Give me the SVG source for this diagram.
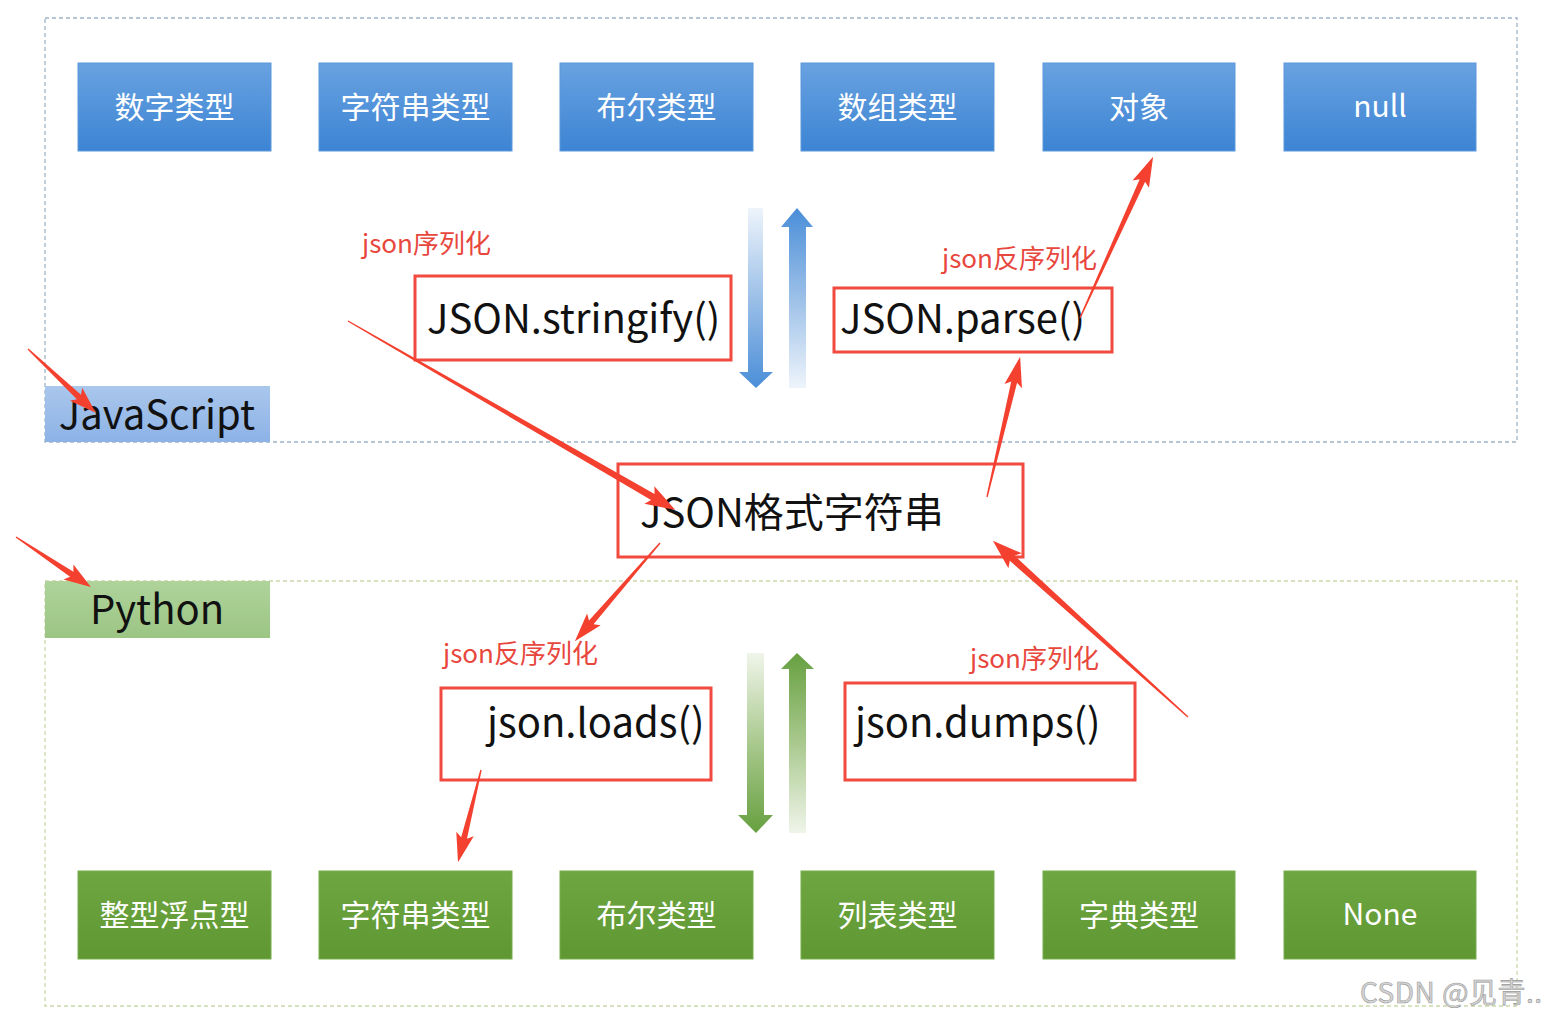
<svg xmlns="http://www.w3.org/2000/svg" width="1554" height="1021" viewBox="0 0 1554 1021">
<defs>
<linearGradient id="gBlue" x1="0" y1="0" x2="0" y2="1"><stop offset="0" stop-color="#68a2e0"/><stop offset="1" stop-color="#3c84d4"/></linearGradient>
<linearGradient id="gGreen" x1="0" y1="0" x2="0" y2="1"><stop offset="0" stop-color="#6ea642"/><stop offset="1" stop-color="#5f9733"/></linearGradient>
<linearGradient id="gJs" x1="0" y1="0" x2="0" y2="1"><stop offset="0" stop-color="#aac7ec"/><stop offset="1" stop-color="#8cb2e6"/></linearGradient>
<linearGradient id="gPy" x1="0" y1="0" x2="0" y2="1"><stop offset="0" stop-color="#afd39b"/><stop offset="1" stop-color="#9cc584"/></linearGradient>
<linearGradient id="bDown" x1="0" y1="0" x2="0" y2="1"><stop offset="0" stop-color="#eef4fb"/><stop offset="0.5" stop-color="#9cc0e8"/><stop offset="1" stop-color="#4a8ed8"/></linearGradient>
<linearGradient id="bUp" x1="0" y1="1" x2="0" y2="0"><stop offset="0" stop-color="#eef4fb"/><stop offset="0.5" stop-color="#9cc0e8"/><stop offset="1" stop-color="#4a8ed8"/></linearGradient>
<linearGradient id="gDown" x1="0" y1="0" x2="0" y2="1"><stop offset="0" stop-color="#f0f5ea"/><stop offset="0.5" stop-color="#a9c98e"/><stop offset="1" stop-color="#67a040"/></linearGradient>
<linearGradient id="gUp" x1="0" y1="1" x2="0" y2="0"><stop offset="0" stop-color="#f0f5ea"/><stop offset="0.5" stop-color="#a9c98e"/><stop offset="1" stop-color="#67a040"/></linearGradient>
</defs>
<style>
.t{font-family:"Noto Sans CJK SC","Noto Sans",sans-serif;}
.btxt{font-size:30px;fill:#ffffff;text-anchor:middle;}
.big{font-size:40px;fill:#111111;}
.lbl{font-size:26px;fill:#e8473d;}
.rbox{fill:#ffffff;stroke:#f24a3f;stroke-width:3;}
.bbox{fill:url(#gBlue);stroke:#5b98dc;stroke-width:1;}
.gbox{fill:url(#gGreen);stroke:#76ad4c;stroke-width:1;}
.arr{fill:#f4402f;}
</style>
<rect width="1554" height="1021" fill="#ffffff"/>
<g id="frames">
<rect x="45" y="18" width="1472" height="424" fill="none" stroke="#9fb4c6" stroke-width="1.3" stroke-dasharray="4 3"/>
<rect x="45" y="581" width="1472" height="425" fill="none" stroke="#c8d9a8" stroke-width="1.3" stroke-dasharray="4 3"/>
</g>
<g id="js-types">
<g id="js-number"><rect class="bbox" x="78" y="63" width="193" height="88"/><text class="t btxt" x="174.5" y="118">数字类型</text></g>
<g id="js-string"><rect class="bbox" x="319" y="63" width="193" height="88"/><text class="t btxt" x="415.5" y="118">字符串类型</text></g>
<g id="js-bool"><rect class="bbox" x="560" y="63" width="193" height="88"/><text class="t btxt" x="656.5" y="118">布尔类型</text></g>
<g id="js-array"><rect class="bbox" x="801" y="63" width="193" height="88"/><text class="t btxt" x="897.5" y="118">数组类型</text></g>
<g id="js-object"><rect class="bbox" x="1043" y="63" width="192" height="88"/><text class="t btxt" x="1139" y="118">对象</text></g>
<g id="js-null"><rect class="bbox" x="1284" y="63" width="192" height="88"/><text class="t btxt" x="1380" y="117">null</text></g>
</g>
<g id="py-types">
<g id="py-num"><rect class="gbox" x="78" y="871" width="193" height="88"/><text class="t btxt" x="174.5" y="926">整型浮点型</text></g>
<g id="py-str"><rect class="gbox" x="319" y="871" width="193" height="88"/><text class="t btxt" x="415.5" y="926">字符串类型</text></g>
<g id="py-bool"><rect class="gbox" x="560" y="871" width="193" height="88"/><text class="t btxt" x="656.5" y="926">布尔类型</text></g>
<g id="py-list"><rect class="gbox" x="801" y="871" width="193" height="88"/><text class="t btxt" x="897.5" y="926">列表类型</text></g>
<g id="py-dict"><rect class="gbox" x="1043" y="871" width="192" height="88"/><text class="t btxt" x="1139" y="926">字典类型</text></g>
<g id="py-none"><rect class="gbox" x="1284" y="871" width="192" height="88"/><text class="t btxt" x="1380" y="925">None</text></g>
</g>
<g id="js-label"><rect x="45" y="386" width="225" height="56" fill="url(#gJs)"/><text class="t big" x="157" y="429" text-anchor="middle" font-size="38">JavaScript</text></g>
<g id="py-label"><rect x="45" y="581" width="225" height="57" fill="url(#gPy)"/><text class="t big" x="157" y="624" text-anchor="middle" font-size="39">Python</text></g>
<g id="stringify"><rect class="rbox" x="415" y="276" width="316" height="84"/><text class="t big" x="427" y="333">JSON.stringify()</text></g>
<g id="parse"><rect class="rbox" x="834" y="288" width="278" height="64"/><text class="t big" x="840" y="333">JSON.parse()</text></g>
<g id="json-string"><rect class="rbox" x="618" y="464" width="405" height="93"/><text class="t big" x="640" y="527">JSON格式字符串</text></g>
<g id="loads"><rect class="rbox" x="441" y="688" width="270" height="92"/><text class="t big" x="487" y="737">json.loads()</text></g>
<g id="dumps"><rect class="rbox" x="845" y="683" width="290" height="97"/><text class="t big" x="855" y="737">json.dumps()</text></g>
<g id="labels">
<text class="t lbl" x="362" y="253">json序列化</text>
<text class="t lbl" x="942" y="268">json反序列化</text>
<text class="t lbl" x="443" y="663">json反序列化</text>
<text class="t lbl" x="970" y="668">json序列化</text>
</g>
<g id="connectors">
<path d="M748,208 L763,208 L763,372 L773,372 L756,388 L739,372 L748,372 Z" fill="url(#bDown)"/>
<path d="M797,208 L813,227 L806,227 L806,388 L789,388 L789,227 L781,227 Z" fill="url(#bUp)"/>
<path d="M747,653 L764,653 L764,815 L773,815 L756,833 L738,815 L747,815 Z" fill="url(#gDown)"/>
<path d="M797,653 L814,669 L806,669 L806,833 L789,833 L789,669 L781,669 Z" fill="url(#gUp)"/>
<path class="arr" transform="translate(348,321) rotate(30.0)" d="M0,-0.7 L352,-3.5 L348,-10 L378,0 L348,10 L352,3.5 L0,0.7 Z"/>
<path class="arr" transform="translate(1080,318) rotate(-65.6)" d="M0,-0.7 L151,-3 L147,-9 L177,0 L147,9 L151,3 L0,0.7 Z"/>
<path class="arr" transform="translate(987,497) rotate(-76.7)" d="M0,-0.7 L118,-3 L114,-9 L144,0 L114,9 L118,3 L0,0.7 Z"/>
<path class="arr" transform="translate(28,349) rotate(43.3)" d="M0,-0.7 L70,-3 L66,-9 L93,0 L66,9 L70,3 L0,0.7 Z"/>
<path class="arr" transform="translate(16,537) rotate(33.7)" d="M0,-0.7 L67,-3 L63,-9 L90,0 L63,9 L67,3 L0,0.7 Z"/>
<path class="arr" transform="translate(660,543) rotate(130.9)" d="M0,-0.7 L105,-3 L101,-9 L130,0 L101,9 L105,3 L0,0.7 Z"/>
<path class="arr" transform="translate(1188,717) rotate(-137.9)" d="M0,-0.7 L237,-3.5 L233,-10 L263,0 L233,10 L237,3.5 L0,0.7 Z"/>
<path class="arr" transform="translate(481,770) rotate(104.0)" d="M0,-0.7 L70,-3 L66,-9 L95,0 L66,9 L70,3 L0,0.7 Z"/>
</g>
<text class="t" x="1360" y="1003" font-size="28" letter-spacing="0.5" fill="#d4d4d4" stroke="#9a9a9a" stroke-width="0.6">CSDN @见青..</text>
</svg>
